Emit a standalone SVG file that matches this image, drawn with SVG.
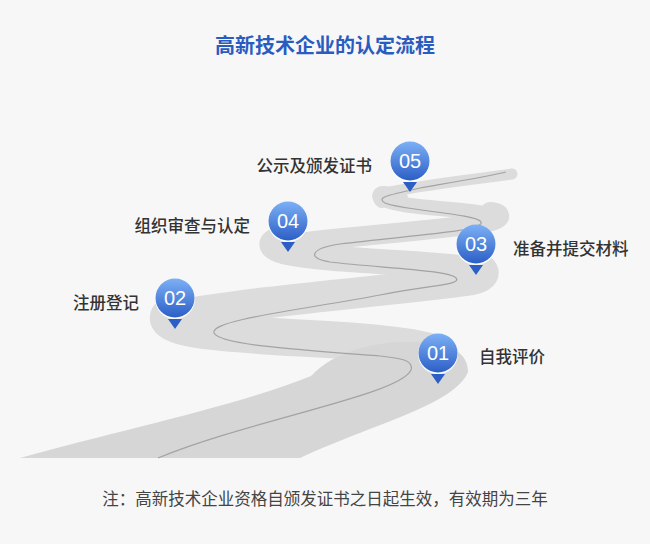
<svg xmlns="http://www.w3.org/2000/svg" width="650" height="544" viewBox="0 0 650 544">
<defs>
<linearGradient id="pin" x1="0" y1="0" x2="0" y2="1"><stop offset="0" stop-color="#7cb0f5"/><stop offset="1" stop-color="#2c5fc6"/></linearGradient>
<g id="p"><path d="M-7,21 L7,21 L0,31 Z" fill="#2c5fc6"/><circle r="20" cy="1" fill="#ffffff" opacity="0.9"/><circle r="19.5" fill="url(#pin)"/></g>
</defs>
<style>
.rd{fill:none;stroke:#dcdcdc;stroke-linecap:round;stroke-linejoin:round}
.ln{fill:none;stroke:#a3a3a3;stroke-width:1.2}
.lb{font-family:"Noto Sans CJK SC","Noto Sans",sans-serif;font-size:16.5px;font-weight:500;fill:#333}
.nm{font-family:"Liberation Sans",Arial,sans-serif;font-size:20px;fill:#fff;text-anchor:middle}
</style>
<rect width="650" height="544" fill="#f7f7f7"/>
<text x="325" y="53" text-anchor="middle" font-family="Noto Sans CJK SC,sans-serif" font-size="20" font-weight="bold" fill="#2a5cbf">高新技术企业的认定流程</text>
<g id="connectors">
<path class="rd" stroke-width="11" d="M380,194 C420,185 470,180 512,174"/>
<path class="rd" stroke-width="15" d="M492,216 C470,207 400,210 382,198"/>
<path class="rd" stroke-width="16" d="M382,200 C375,190 390,195 400,198"/>
<path class="rd" stroke-width="20" d="M275,246 C340,236 430,232 488,222 C505,218 500,212 490,212"/>
<path class="rd" stroke-width="25" d="M478,270 C440,262 330,262 285,252 C268,248 268,240 282,240"/>
<path class="rd" stroke-width="31" d="M175,316 C260,300 400,290 470,280 C490,276 485,268 470,266"/>
<path class="rd" stroke-width="37" d="M440,355 C400,338 270,340 200,330 C165,325 160,315 180,312"/>
<path fill="#d6d6d6" d="M20,458 L300,458 C370,425 455,405 468,372 C468,352 450,344 420,342 C380,340 335,350 311,376 C240,405 120,430 20,458 Z"/>
<path class="ln" d="M158,458 C250,420 400,395 411,370 C414,360 400,358 380,356 C300,350 220,345 214,333 C210,320 300,310 380,295 C430,285 462,285 456,278 C450,270 380,268 330,262 C305,258 312,248 340,244 C400,236 485,232 481,222 C478,214 400,210 385,203 C375,197 390,195 420,188 C460,181 490,176 506,172"/>
</g>
<g id="n01"><use href="#p" x="438" y="353"/><text class="nm" x="438" y="360">01</text><text class="lb" x="479" y="363">自我评价</text></g>
<g id="n02"><use href="#p" x="175" y="298"/><text class="nm" x="175" y="305">02</text><text class="lb" x="139" y="309" text-anchor="end">注册登记</text></g>
<g id="n03"><use href="#p" x="476" y="244"/><text class="nm" x="476" y="251">03</text><text class="lb" x="513" y="255">准备并提交材料</text></g>
<g id="n04"><use href="#p" x="288" y="221"/><text class="nm" x="288" y="228">04</text><text class="lb" x="250" y="232" text-anchor="end">组织审查与认定</text></g>
<g id="n05"><use href="#p" x="410" y="161"/><text class="nm" x="410" y="168">05</text><text class="lb" x="372" y="172" text-anchor="end">公示及颁发证书</text></g>
<text x="325" y="505" text-anchor="middle" font-family="Noto Sans CJK SC,sans-serif" font-size="16.5" fill="#444">注：高新技术企业资格自颁发证书之日起生效，有效期为三年</text>
</svg>
